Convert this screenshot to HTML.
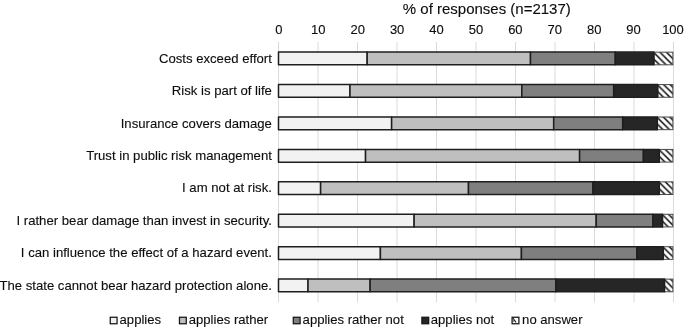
<!DOCTYPE html>
<html><head><meta charset="utf-8"><title>chart</title>
<style>
html,body{margin:0;padding:0;background:#fff;}
svg{display:block;font-family:"Liberation Sans",Arial,sans-serif;}
</style></head><body>
<svg width="685" height="329" viewBox="0 0 685 329">
<rect width="685" height="329" fill="#fff"/>

<line x1="278.50" y1="42" x2="278.50" y2="302.3" stroke="#dadada" stroke-width="1"/>
<text x="278.90" y="34" font-size="13" text-anchor="middle" fill="#0d0d0d" stroke="#0d0d0d" stroke-width="0.12">0</text>
<line x1="318.00" y1="42" x2="318.00" y2="302.3" stroke="#dadada" stroke-width="1"/>
<text x="318.31" y="34" font-size="13" text-anchor="middle" fill="#0d0d0d" stroke="#0d0d0d" stroke-width="0.12">10</text>
<line x1="357.50" y1="42" x2="357.50" y2="302.3" stroke="#dadada" stroke-width="1"/>
<text x="357.72" y="34" font-size="13" text-anchor="middle" fill="#0d0d0d" stroke="#0d0d0d" stroke-width="0.12">20</text>
<line x1="397.00" y1="42" x2="397.00" y2="302.3" stroke="#dadada" stroke-width="1"/>
<text x="397.13" y="34" font-size="13" text-anchor="middle" fill="#0d0d0d" stroke="#0d0d0d" stroke-width="0.12">30</text>
<line x1="436.50" y1="42" x2="436.50" y2="302.3" stroke="#dadada" stroke-width="1"/>
<text x="436.54" y="34" font-size="13" text-anchor="middle" fill="#0d0d0d" stroke="#0d0d0d" stroke-width="0.12">40</text>
<line x1="476.00" y1="42" x2="476.00" y2="302.3" stroke="#dadada" stroke-width="1"/>
<text x="475.95" y="34" font-size="13" text-anchor="middle" fill="#0d0d0d" stroke="#0d0d0d" stroke-width="0.12">50</text>
<line x1="515.50" y1="42" x2="515.50" y2="302.3" stroke="#dadada" stroke-width="1"/>
<text x="515.36" y="34" font-size="13" text-anchor="middle" fill="#0d0d0d" stroke="#0d0d0d" stroke-width="0.12">60</text>
<line x1="555.00" y1="42" x2="555.00" y2="302.3" stroke="#dadada" stroke-width="1"/>
<text x="554.77" y="34" font-size="13" text-anchor="middle" fill="#0d0d0d" stroke="#0d0d0d" stroke-width="0.12">70</text>
<line x1="594.50" y1="42" x2="594.50" y2="302.3" stroke="#dadada" stroke-width="1"/>
<text x="594.18" y="34" font-size="13" text-anchor="middle" fill="#0d0d0d" stroke="#0d0d0d" stroke-width="0.12">80</text>
<line x1="634.00" y1="42" x2="634.00" y2="302.3" stroke="#dadada" stroke-width="1"/>
<text x="633.59" y="34" font-size="13" text-anchor="middle" fill="#0d0d0d" stroke="#0d0d0d" stroke-width="0.12">90</text>
<line x1="673.50" y1="42" x2="673.50" y2="302.3" stroke="#dadada" stroke-width="1"/>
<text x="673.00" y="34" font-size="13" text-anchor="middle" fill="#0d0d0d" stroke="#0d0d0d" stroke-width="0.12">100</text>
<text x="486.8" y="14.0" font-size="15" text-anchor="middle" fill="#0d0d0d" stroke="#0d0d0d" stroke-width="0.12">% of responses (n=2137)</text>
<text x="271.9" y="63" font-size="13.15" text-anchor="end" fill="#0d0d0d" stroke="#0d0d0d" stroke-width="0.12">Costs exceed effort</text>
<pattern id="h0" x="654.11" y="51.50" width="6.5" height="6.5" patternUnits="userSpaceOnUse"><rect x="-1" y="-1" width="9" height="9" fill="#fff"/><path d="M-2,-0.65 L8.5,9.85 M3.15,-2 L10.15,5 M-2,5.85 L3,10.85" stroke="#222" stroke-width="1.7" fill="none"/></pattern>
<rect x="653.91" y="52.17" width="18.99" height="12.65" fill="url(#h0)" stroke="#4a4a4a" stroke-width="1"/>
<rect x="278.50" y="52.12" width="88.68" height="12.75" fill="#f2f2f2" stroke="#1e1e1e" stroke-width="1.5" stroke-linejoin="round"/>
<rect x="367.18" y="52.12" width="163.33" height="12.75" fill="#bfbfbf" stroke="#1e1e1e" stroke-width="1.5" stroke-linejoin="round"/>
<rect x="530.51" y="52.12" width="84.81" height="12.75" fill="#7f7f7f" stroke="#1e1e1e" stroke-width="1.5" stroke-linejoin="round"/>
<rect x="615.32" y="52.12" width="38.59" height="12.75" fill="#262626" stroke="#1e1e1e" stroke-width="1.5" stroke-linejoin="round"/>
<text x="271.9" y="95" font-size="13.15" text-anchor="end" fill="#0d0d0d" stroke="#0d0d0d" stroke-width="0.12">Risk is part of life</text>
<pattern id="h1" x="657.90" y="83.92" width="6.5" height="6.5" patternUnits="userSpaceOnUse"><rect x="-1" y="-1" width="9" height="9" fill="#fff"/><path d="M-2,-0.65 L8.5,9.85 M3.15,-2 L10.15,5 M-2,5.85 L3,10.85" stroke="#222" stroke-width="1.7" fill="none"/></pattern>
<rect x="657.70" y="84.59" width="15.20" height="12.65" fill="url(#h1)" stroke="#4a4a4a" stroke-width="1"/>
<rect x="278.50" y="84.55" width="71.50" height="12.75" fill="#f2f2f2" stroke="#1e1e1e" stroke-width="1.5" stroke-linejoin="round"/>
<rect x="350.00" y="84.55" width="171.83" height="12.75" fill="#bfbfbf" stroke="#1e1e1e" stroke-width="1.5" stroke-linejoin="round"/>
<rect x="521.82" y="84.55" width="91.88" height="12.75" fill="#7f7f7f" stroke="#1e1e1e" stroke-width="1.5" stroke-linejoin="round"/>
<rect x="613.70" y="84.55" width="44.00" height="12.75" fill="#262626" stroke="#1e1e1e" stroke-width="1.5" stroke-linejoin="round"/>
<text x="271.9" y="128" font-size="13.15" text-anchor="end" fill="#0d0d0d" stroke="#0d0d0d" stroke-width="0.12">Insurance covers damage</text>
<pattern id="h2" x="657.51" y="116.34" width="6.5" height="6.5" patternUnits="userSpaceOnUse"><rect x="-1" y="-1" width="9" height="9" fill="#fff"/><path d="M-2,-0.65 L8.5,9.85 M3.15,-2 L10.15,5 M-2,5.85 L3,10.85" stroke="#222" stroke-width="1.7" fill="none"/></pattern>
<rect x="657.31" y="117.02" width="15.59" height="12.65" fill="url(#h2)" stroke="#4a4a4a" stroke-width="1"/>
<rect x="278.50" y="116.97" width="113.13" height="12.75" fill="#f2f2f2" stroke="#1e1e1e" stroke-width="1.5" stroke-linejoin="round"/>
<rect x="391.63" y="116.97" width="162.07" height="12.75" fill="#bfbfbf" stroke="#1e1e1e" stroke-width="1.5" stroke-linejoin="round"/>
<rect x="553.70" y="116.97" width="69.01" height="12.75" fill="#7f7f7f" stroke="#1e1e1e" stroke-width="1.5" stroke-linejoin="round"/>
<rect x="622.70" y="116.97" width="34.60" height="12.75" fill="#262626" stroke="#1e1e1e" stroke-width="1.5" stroke-linejoin="round"/>
<text x="271.9" y="160" font-size="13.15" text-anchor="end" fill="#0d0d0d" stroke="#0d0d0d" stroke-width="0.12">Trust in public risk management</text>
<pattern id="h3" x="659.52" y="148.76" width="6.5" height="6.5" patternUnits="userSpaceOnUse"><rect x="-1" y="-1" width="9" height="9" fill="#fff"/><path d="M-2,-0.65 L8.5,9.85 M3.15,-2 L10.15,5 M-2,5.85 L3,10.85" stroke="#222" stroke-width="1.7" fill="none"/></pattern>
<rect x="659.32" y="149.44" width="13.58" height="12.65" fill="url(#h3)" stroke="#4a4a4a" stroke-width="1"/>
<rect x="278.50" y="149.38" width="87.06" height="12.75" fill="#f2f2f2" stroke="#1e1e1e" stroke-width="1.5" stroke-linejoin="round"/>
<rect x="365.56" y="149.38" width="214.05" height="12.75" fill="#bfbfbf" stroke="#1e1e1e" stroke-width="1.5" stroke-linejoin="round"/>
<rect x="579.61" y="149.38" width="63.79" height="12.75" fill="#7f7f7f" stroke="#1e1e1e" stroke-width="1.5" stroke-linejoin="round"/>
<rect x="643.40" y="149.38" width="15.92" height="12.75" fill="#262626" stroke="#1e1e1e" stroke-width="1.5" stroke-linejoin="round"/>
<text x="271.9" y="192" font-size="13.15" text-anchor="end" fill="#0d0d0d" stroke="#0d0d0d" stroke-width="0.12">I am not at risk.</text>
<pattern id="h4" x="659.52" y="181.18" width="6.5" height="6.5" patternUnits="userSpaceOnUse"><rect x="-1" y="-1" width="9" height="9" fill="#fff"/><path d="M-2,-0.65 L8.5,9.85 M3.15,-2 L10.15,5 M-2,5.85 L3,10.85" stroke="#222" stroke-width="1.7" fill="none"/></pattern>
<rect x="659.32" y="181.86" width="13.58" height="12.65" fill="url(#h4)" stroke="#4a4a4a" stroke-width="1"/>
<rect x="278.50" y="181.81" width="42.11" height="12.75" fill="#f2f2f2" stroke="#1e1e1e" stroke-width="1.5" stroke-linejoin="round"/>
<rect x="320.61" y="181.81" width="147.89" height="12.75" fill="#bfbfbf" stroke="#1e1e1e" stroke-width="1.5" stroke-linejoin="round"/>
<rect x="468.50" y="181.81" width="124.50" height="12.75" fill="#7f7f7f" stroke="#1e1e1e" stroke-width="1.5" stroke-linejoin="round"/>
<rect x="593.00" y="181.81" width="66.32" height="12.75" fill="#262626" stroke="#1e1e1e" stroke-width="1.5" stroke-linejoin="round"/>
<text x="271.9" y="225" font-size="13.15" text-anchor="end" fill="#0d0d0d" stroke="#0d0d0d" stroke-width="0.12">I rather bear damage than invest in security.</text>
<pattern id="h5" x="662.72" y="213.60" width="6.5" height="6.5" patternUnits="userSpaceOnUse"><rect x="-1" y="-1" width="9" height="9" fill="#fff"/><path d="M-2,-0.65 L8.5,9.85 M3.15,-2 L10.15,5 M-2,5.85 L3,10.85" stroke="#222" stroke-width="1.7" fill="none"/></pattern>
<rect x="662.52" y="214.28" width="10.38" height="12.65" fill="url(#h5)" stroke="#4a4a4a" stroke-width="1"/>
<rect x="278.50" y="214.23" width="135.64" height="12.75" fill="#f2f2f2" stroke="#1e1e1e" stroke-width="1.5" stroke-linejoin="round"/>
<rect x="414.14" y="214.23" width="182.10" height="12.75" fill="#bfbfbf" stroke="#1e1e1e" stroke-width="1.5" stroke-linejoin="round"/>
<rect x="596.24" y="214.23" width="56.76" height="12.75" fill="#7f7f7f" stroke="#1e1e1e" stroke-width="1.5" stroke-linejoin="round"/>
<rect x="653.00" y="214.23" width="9.52" height="12.75" fill="#262626" stroke="#1e1e1e" stroke-width="1.5" stroke-linejoin="round"/>
<text x="271.9" y="257" font-size="13.15" text-anchor="end" fill="#0d0d0d" stroke="#0d0d0d" stroke-width="0.12">I can influence the effect of a hazard event.</text>
<pattern id="h6" x="663.51" y="246.02" width="6.5" height="6.5" patternUnits="userSpaceOnUse"><rect x="-1" y="-1" width="9" height="9" fill="#fff"/><path d="M-2,-0.65 L8.5,9.85 M3.15,-2 L10.15,5 M-2,5.85 L3,10.85" stroke="#222" stroke-width="1.7" fill="none"/></pattern>
<rect x="663.31" y="246.70" width="9.59" height="12.65" fill="url(#h6)" stroke="#4a4a4a" stroke-width="1"/>
<rect x="278.50" y="246.65" width="101.91" height="12.75" fill="#f2f2f2" stroke="#1e1e1e" stroke-width="1.5" stroke-linejoin="round"/>
<rect x="380.41" y="246.65" width="141.01" height="12.75" fill="#bfbfbf" stroke="#1e1e1e" stroke-width="1.5" stroke-linejoin="round"/>
<rect x="521.42" y="246.65" width="115.54" height="12.75" fill="#7f7f7f" stroke="#1e1e1e" stroke-width="1.5" stroke-linejoin="round"/>
<rect x="636.96" y="246.65" width="26.35" height="12.75" fill="#262626" stroke="#1e1e1e" stroke-width="1.5" stroke-linejoin="round"/>
<text x="271.9" y="290" font-size="13.15" text-anchor="end" fill="#0d0d0d" stroke="#0d0d0d" stroke-width="0.12">The state cannot bear hazard protection alone.</text>
<pattern id="h7" x="664.73" y="278.44" width="6.5" height="6.5" patternUnits="userSpaceOnUse"><rect x="-1" y="-1" width="9" height="9" fill="#fff"/><path d="M-2,-0.65 L8.5,9.85 M3.15,-2 L10.15,5 M-2,5.85 L3,10.85" stroke="#222" stroke-width="1.7" fill="none"/></pattern>
<rect x="664.53" y="279.12" width="8.37" height="12.65" fill="url(#h7)" stroke="#4a4a4a" stroke-width="1"/>
<rect x="278.50" y="279.06" width="29.51" height="12.75" fill="#f2f2f2" stroke="#1e1e1e" stroke-width="1.5" stroke-linejoin="round"/>
<rect x="308.01" y="279.06" width="62.13" height="12.75" fill="#bfbfbf" stroke="#1e1e1e" stroke-width="1.5" stroke-linejoin="round"/>
<rect x="370.14" y="279.06" width="185.77" height="12.75" fill="#7f7f7f" stroke="#1e1e1e" stroke-width="1.5" stroke-linejoin="round"/>
<rect x="555.91" y="279.06" width="108.62" height="12.75" fill="#262626" stroke="#1e1e1e" stroke-width="1.5" stroke-linejoin="round"/>
<rect x="110.25" y="317.25" width="6.8" height="6.5" fill="#f2f2f2" stroke="#141414" stroke-width="1.25"/>
<text x="119.57" y="324" font-size="13.1" fill="#0d0d0d" stroke="#0d0d0d" stroke-width="0.12">applies</text>
<rect x="179.46" y="317.25" width="6.8" height="6.5" fill="#bfbfbf" stroke="#141414" stroke-width="1.25"/>
<text x="188.77" y="324" font-size="13.1" fill="#0d0d0d" stroke="#0d0d0d" stroke-width="0.12">applies rather</text>
<rect x="293.30" y="317.25" width="6.8" height="6.5" fill="#7f7f7f" stroke="#141414" stroke-width="1.25"/>
<text x="302.60" y="324" font-size="13.1" fill="#0d0d0d" stroke="#0d0d0d" stroke-width="0.12">applies rather not</text>
<rect x="421.90" y="317.25" width="6.8" height="6.5" fill="#262626" stroke="#141414" stroke-width="1.25"/>
<text x="430.80" y="324" font-size="13.1" fill="#0d0d0d" stroke="#0d0d0d" stroke-width="0.12">applies not</text>
<rect x="512.10" y="317.25" width="6.8" height="6.5" fill="#fff" stroke="#141414" stroke-width="1.25"/>
<path d="M512.9,318.0 L516.0,322.4" stroke="#1c1c1c" stroke-width="1.15" fill="none"/>
<path d="M512.9,321.0 L514.0,321.0" stroke="#1c1c1c" stroke-width="1.0" fill="none"/>
<text x="522.10" y="324" font-size="13.1" fill="#0d0d0d" stroke="#0d0d0d" stroke-width="0.12">no answer</text>
</svg></body></html>
